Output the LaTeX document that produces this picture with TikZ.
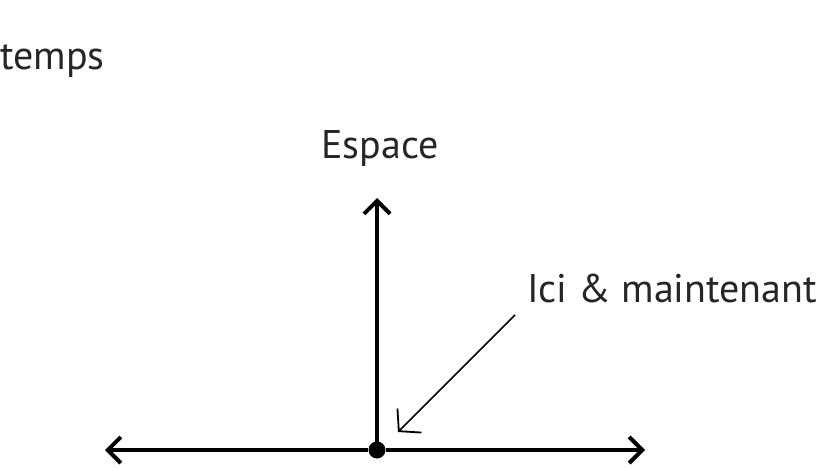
\documentclass[tikz,border=0pt]{standalone}
\usepackage{fontspec}
\setmainfont{PT Sans}
\usetikzlibrary{arrows.meta}

\begin{document}
\begin{tikzpicture}[x=1pt,y=1pt,
    axe/.style={line width=4.5pt,-{Straight Barb[length=13pt,width=26pt,line width=4pt]}},
    fleche/.style={line width=1.6pt,-{Straight Barb[length=15pt,width=34pt,line width=1.8pt]}},
    lbl/.style={inner sep=0pt,font=\fontsize{40}{48}\selectfont,text=black!85}]
    \useasboundingbox (0,0) rectangle (822,467);
    \node[circle,fill,inner sep=0pt,minimum size=17pt] (ici) at (377,17) {};
    \coordinate (gauche) at (105,17);
    \coordinate (droite) at (645,17);
    \coordinate (haut) at (377,269);
    \draw[axe] (ici) -- (gauche);
    \draw[axe] (ici) -- (droite);
    \draw[axe] (ici.center) -- (haut);
    \node[lbl,anchor=base] (espace) at (380,309) {Espace};
    \node[lbl,anchor=base west] (temps) at (0,397) {temps};
    \node[lbl,anchor=base west] (maint) at (527,165) {Ici \& maintenant};
    \coordinate (depart) at (515,152);
    \coordinate (arrivee) at (398,35);
    \draw[fleche] (depart) -- (arrivee);
\end{tikzpicture}
\end{document}
